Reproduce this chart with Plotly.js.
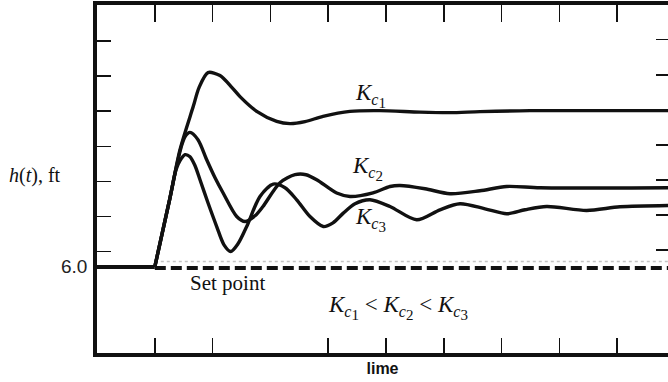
<!DOCTYPE html>
<html>
<head>
<meta charset="utf-8">
<script src="https://cdn.plot.ly/plotly-3.0.1.min.js"></script>
<style>html,body{margin:0;padding:0;background:#fff;overflow:hidden}</style>
</head>
<body>
<div id="chart" style="width:668px;height:382px"></div>
<script>
// time axis (arbitrary units, one unit per tick), level h(t) in ft
const preStepT = [0, 1.0];
const preStepH = [6.0, 6.0];

const kc1T = [1.0, 1.263, 1.436, 1.666, 1.765, 1.92, 2.128, 2.336, 2.474, 2.763, 3.109, 3.339, 3.599, 3.91, 4.377, 4.896, 5.588, 6.107, 6.626, 7.491, 9.879];
const kc1H = [6.0, 7.971, 9.343, 10.58, 11.114, 11.543, 11.457, 11.114, 10.857, 10.437, 10.151, 10.086, 10.143, 10.294, 10.437, 10.457, 10.414, 10.4, 10.429, 10.457, 10.457];

const kc2T = [1.0, 1.263, 1.367, 1.453, 1.522, 1.609, 1.747, 1.898, 2.042, 2.18, 2.417, 2.561, 2.734, 2.872, 3.166, 3.426, 3.616, 3.801, 4.147, 4.377, 4.775, 5.069, 5.242, 5.675, 6.107, 6.626, 7.088, 7.664, 9.879];
const kc2H = [6.0, 7.971, 8.8, 9.4, 9.714, 9.837, 9.629, 9.057, 8.543, 8.114, 7.437, 7.294, 7.457, 7.723, 8.4, 8.629, 8.629, 8.486, 8.106, 8.009, 8.114, 8.294, 8.323, 8.229, 8.086, 8.171, 8.294, 8.257, 8.257];

const kc3T = [1.0, 1.263, 1.367, 1.436, 1.522, 1.609, 1.696, 1.782, 1.92, 2.071, 2.197, 2.313, 2.439, 2.59, 2.82, 3.05, 3.253, 3.455, 3.685, 3.915, 4.083, 4.261, 4.464, 4.723, 5.069, 5.531, 5.934, 6.28, 6.713, 7.088, 7.405, 7.78, 8.472, 9.048, 9.879];
const kc3H = [6.0, 7.971, 8.771, 9.029, 9.2, 9.143, 8.886, 8.486, 7.829, 7.151, 6.629, 6.437, 6.657, 7.151, 8.009, 8.363, 8.257, 7.914, 7.437, 7.151, 7.257, 7.534, 7.8, 7.914, 7.723, 7.343, 7.629, 7.8, 7.657, 7.514, 7.629, 7.723, 7.609, 7.714, 7.751];

const setPointT = [1.0, 9.879];
const setPointH = [5.97, 5.97];
const ghostH = [6.15, 6.15];

const bottomTicks = [1, 2, 4, 5, 6, 7, 8, 9];
const topTicks = [1, 2, 3, 4, 5, 6, 7, 8, 9];
const leftTicks = [6.44, 7.44, 8.44, 9.44, 10.44, 11.44, 12.44];
const rightTicks = [6.48, 7.48, 8.48, 9.48, 10.48, 11.48, 12.48];
const yLabelValue = 6.0;
const yLabelText = '6.0';

const xRange = [0, 9.879];
const yRange = [3.543, 13.471];

const ink = '#111';
const serif = 'Liberation Serif, Times New Roman, serif';
const sans = 'Liberation Sans, Arial, sans-serif';

const kc = n => '<i>K</i><sub><i>c</i><sub><span style="font-size:15px">' + n + '</span></sub></sub>';

const curve = (t, h) => ({x: t, y: h, type: 'scatter', mode: 'lines',
  line: {color: ink, width: 3.4, shape: 'spline', smoothing: 0.8},
  showlegend: false, hoverinfo: 'skip'});

const traces = [
  {x: setPointT, y: ghostH, type: 'scatter', mode: 'lines', line: {color: '#c4c4c4', width: 1.5, dash: '3px,3px'}, showlegend: false, hoverinfo: 'skip'},
  {x: setPointT, y: setPointH, type: 'scatter', mode: 'lines', line: {color: ink, width: 4, dash: '11px,5px'}, showlegend: false, hoverinfo: 'skip'},
  {x: preStepT, y: preStepH, type: 'scatter', mode: 'lines', line: {color: ink, width: 4}, showlegend: false, hoverinfo: 'skip'},
  curve(kc1T, kc1H),
  curve(kc2T, kc2H),
  curve(kc3T, kc3H),
  {x: [null], y: [null], xaxis: 'x2', yaxis: 'y2', type: 'scatter', mode: 'lines', showlegend: false, hoverinfo: 'skip'}
];

const layout = {
  width: 668, height: 382,
  margin: {l: 97, r: 0, t: 5, b: 29},
  paper_bgcolor: '#fff', plot_bgcolor: '#fff',
  showlegend: false,
  xaxis: {range: xRange, tickmode: 'array', tickvals: bottomTicks, showticklabels: false,
    ticks: 'inside', ticklen: 15, tickwidth: 1.5, tickcolor: ink,
    showline: true, linewidth: 4, linecolor: ink, showgrid: false, zeroline: false,
    title: {text: 'lime', font: {family: sans, size: 16, color: ink, weight: 'bold'}, standoff: 8}},
  xaxis2: {range: xRange, overlaying: 'x', side: 'top', tickmode: 'array', tickvals: topTicks,
    showticklabels: false, ticks: 'inside', ticklen: 17, tickwidth: 1.5, tickcolor: ink,
    showline: true, linewidth: 4, linecolor: ink, showgrid: false, zeroline: false},
  yaxis: {range: yRange, tickmode: 'array', tickvals: leftTicks, showticklabels: false,
    ticks: 'inside', ticklen: 14, tickwidth: 1.5, tickcolor: ink,
    showline: true, linewidth: 4, linecolor: ink, showgrid: false, zeroline: false},
  yaxis2: {range: yRange, overlaying: 'y', side: 'right', tickmode: 'array', tickvals: rightTicks,
    showticklabels: false, ticks: 'inside', ticklen: 12, tickwidth: 1.5, tickcolor: ink,
    showline: false, showgrid: false, zeroline: false},
  annotations: [
    {xref: 'paper', yref: 'y', x: -0.014, y: yLabelValue, xanchor: 'right', yanchor: 'middle', showarrow: false,
     text: yLabelText, font: {family: sans, size: 19, color: '#222'}},
    {xref: 'paper', yref: 'y', x: -0.157, y: 8.6, xanchor: 'left', yanchor: 'middle', showarrow: false,
     text: '<i>h</i>(<i>t</i>), ft', font: {family: serif, size: 20, color: ink}},
    {xref: 'x', yref: 'y', x: 1.58, y: 5.55, xanchor: 'left', yanchor: 'middle', showarrow: false,
     text: 'Set point', font: {family: serif, size: 21, color: ink}},
    {xref: 'x', yref: 'y', x: 4.43, y: 10.9, xanchor: 'left', yanchor: 'middle', showarrow: false,
     text: kc(1), font: {family: serif, size: 23, color: ink}},
    {xref: 'x', yref: 'y', x: 4.38, y: 8.82, xanchor: 'left', yanchor: 'middle', showarrow: false,
     text: kc(2), font: {family: serif, size: 23, color: ink}},
    {xref: 'x', yref: 'y', x: 4.43, y: 7.35, xanchor: 'left', yanchor: 'middle', showarrow: false,
     text: kc(3), font: {family: serif, size: 23, color: ink}},
    {xref: 'x', yref: 'y', x: 5.2, y: 4.85, xanchor: 'center', yanchor: 'middle', showarrow: false,
     text: kc(1) + ' < ' + kc(2) + ' < ' + kc(3),
     font: {family: serif, size: 23, color: ink}}
  ]
};

Plotly.newPlot('chart', traces, layout, {staticPlot: true, displayModeBar: false});
</script>
</body>
</html>
